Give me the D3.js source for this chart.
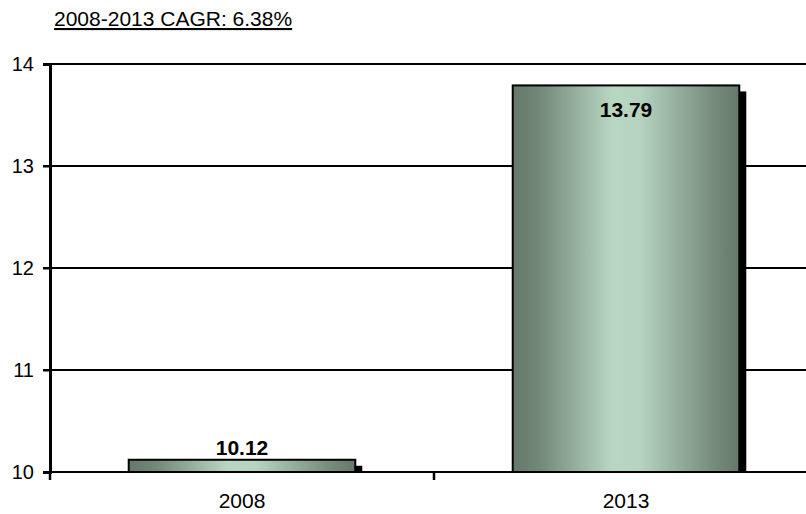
<!DOCTYPE html>
<html lang="en">
<head>
    <meta charset="UTF-8">
    <title>2008-2013 CAGR</title>
    <script src="https://d3js.org/d3.v7.min.js"></script>
    <style>
        body { margin: 0; background: #fff; }
        svg text { font-family: "Liberation Sans", Arial, sans-serif; fill: #000; }
    </style>
</head>
<body>
    <div id="chart"></div>
    <script>
        // chart data
        var years = ["2008", "2013"];
        var values = [10.12, 13.79];
        var yTicks = [10, 11, 12, 13, 14];
        var title = "2008-2013 CAGR: 6.38%";

        var width = 806, height = 514;

        var svg = d3.select("#chart").append("svg")
            .attr("width", width)
            .attr("height", height);

        // horizontal gradient for the bars
        var grad = svg.append("defs").append("linearGradient")
            .attr("id", "barGrad")
            .attr("x1", "0%").attr("x2", "100%")
            .attr("y1", "0%").attr("y2", "0%");
        grad.append("stop").attr("offset", "0%").attr("stop-color", "#65786a");
        grad.append("stop").attr("offset", "12%").attr("stop-color", "#738878");
        grad.append("stop").attr("offset", "44%").attr("stop-color", "#b8d7c3");
        grad.append("stop").attr("offset", "56%").attr("stop-color", "#b5d4c0");
        grad.append("stop").attr("offset", "88%").attr("stop-color", "#788d7d");
        grad.append("stop").attr("offset", "100%").attr("stop-color", "#65786a");

        var x = d3.scaleBand()
            .domain(years)
            .range([50, 818])
            .paddingInner(0.41)
            .paddingOuter(0.205);

        var y = d3.scaleLinear()
            .domain([10, 14])
            .range([472, 64]);

        // title
        svg.append("text")
            .attr("x", 54)
            .attr("y", 26)
            .attr("font-size", 21)
            .attr("text-decoration", "underline")
            .text(title);

        // gridlines
        svg.append("g").selectAll("line")
            .data(yTicks)
            .join("line")
            .attr("x1", 43).attr("x2", width)
            .attr("y1", d => y(d)).attr("y2", d => y(d))
            .attr("stroke", "#000")
            .attr("stroke-width", 2);

        // y axis
        var yAxis = svg.append("g")
            .attr("transform", "translate(50,0)")
            .call(d3.axisLeft(y).tickValues(yTicks).tickSize(7).tickPadding(9).tickFormat(d3.format("d")));
        yAxis.select(".domain").attr("stroke-width", 3);
        yAxis.selectAll(".tick line").attr("stroke-width", 2);
        yAxis.selectAll("text").attr("font-size", 20).attr("font-family", "Liberation Sans, Arial, sans-serif");

        // x axis
        var xAxis = svg.append("g")
            .attr("transform", "translate(0,472)")
            .call(d3.axisBottom(x).tickSize(0).tickPadding(21));
        xAxis.select(".domain").remove();
        xAxis.selectAll("text").attr("font-size", 21).attr("font-family", "Liberation Sans, Arial, sans-serif");

        // category separator ticks
        var sepX = [50, x("2013") - x.step() * x.paddingInner() / 2];
        svg.append("g").selectAll("line")
            .data(sepX)
            .join("line")
            .attr("x1", d => d).attr("x2", d => d)
            .attr("y1", 472).attr("y2", 480)
            .attr("stroke", "#000")
            .attr("stroke-width", 2.5);

        var bars = svg.append("g").selectAll("g")
            .data(years.map((d, i) => ({ year: d, value: values[i] })))
            .join("g");

        // shadow
        bars.append("rect")
            .attr("x", d => x(d.year) + 7)
            .attr("y", d => y(d.value) + 6)
            .attr("width", x.bandwidth())
            .attr("height", d => y(10) - y(d.value) - 6)
            .attr("fill", "#000");

        bars.append("rect")
            .attr("x", d => x(d.year))
            .attr("y", d => y(d.value))
            .attr("width", x.bandwidth())
            .attr("height", d => y(10) - y(d.value))
            .attr("fill", "url(#barGrad)")
            .attr("stroke", "#000")
            .attr("stroke-width", 2);

        // value labels
        bars.append("text")
            .attr("x", d => x(d.year) + x.bandwidth() / 2)
            .attr("y", d => d.value > 12 ? y(d.value) + 32 : y(d.value) - 5)
            .attr("text-anchor", "middle")
            .attr("font-size", 21)
            .attr("font-weight", "bold")
            .text(d => d3.format(".2f")(d.value));
    </script>
</body>
</html>
